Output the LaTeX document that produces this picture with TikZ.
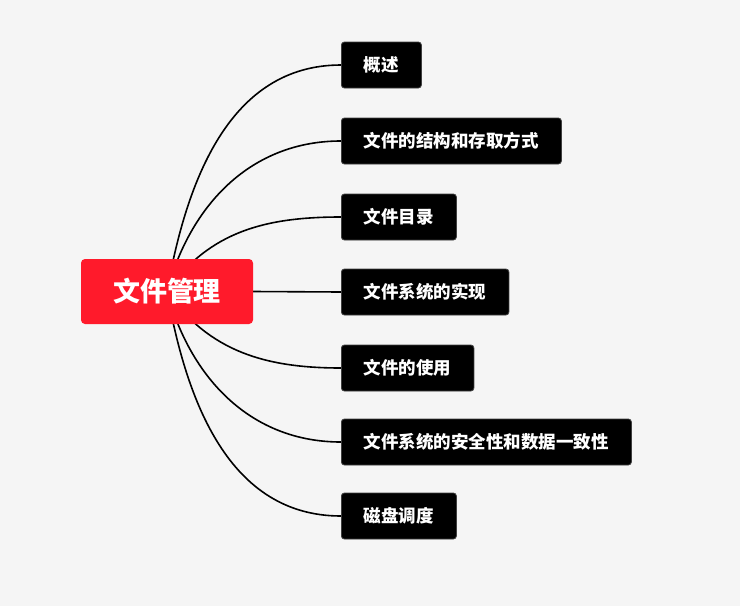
\documentclass[tikz,border=0pt]{standalone}
\usepackage{fontspec}
\newfontfamily\cjk{Noto Sans CJK SC}
\usetikzlibrary{positioning}

\definecolor{bggray}{HTML}{F5F5F5}
\definecolor{rootred}{HTML}{FF1A2B}
\pgfdeclarelayer{back}
\pgfsetlayers{back,main}

\tikzset{
  rootbox/.style={fill=rootred, rounded corners=4pt, text=white,
    font=\cjk\bfseries\fontsize{27}{30}\selectfont,
    minimum width=172pt, minimum height=65pt, inner sep=0pt},
  topicbox/.style={fill=black, draw=black!75, line width=0.8pt, rounded corners=3pt,
    text=white, font=\cjk\bfseries\fontsize{17.5}{20}\selectfont,
    minimum height=46pt, inner xsep=22.5pt, inner ysep=0pt, anchor=west},
  branch/.style={draw=black, line width=1.6pt},
}

\begin{document}
\begin{tikzpicture}[x=1pt,y=-1pt]
    \useasboundingbox (0,0) rectangle (740,606);
    \node[rootbox] (root) at (167,291.5) {文件管理};
    \node[topicbox] (intro) at (341,65) {概述};
    \node[topicbox] (struct) at (341,141) {文件的结构和存取方式};
    \node[topicbox] (dir) at (341,217) {文件目录};
    \node[topicbox] (impl) at (341,292) {文件系统的实现};
    \node[topicbox] (use) at (341,368) {文件的使用};
    \node[topicbox] (safe) at (341,442) {文件系统的安全性和数据一致性};
    \node[topicbox] (disk) at (341,516) {磁盘调度};
    \begin{pgfonlayer}{back}
      \fill[bggray] (0,0) rectangle (740,606);
      \draw[branch] (root.center) .. controls +(19.4,-110.1) and +(-111.8,0) .. (intro.west);
      \draw[branch] (root.center) .. controls +(23.3,-86.9) and +(-90,0) .. (struct.west);
      \draw[branch] (root.center) .. controls +(42.5,-60.7) and +(-74.1,0) .. (dir.west);
      \draw[branch] (root.east) -- (impl.west);
      \draw[branch] (root.center) .. controls +(42.5,60.7) and +(-74.1,0) .. (use.west);
      \draw[branch] (root.center) .. controls +(23.3,86.9) and +(-90,0) .. (safe.west);
      \draw[branch] (root.center) .. controls +(19.4,110.1) and +(-111.8,0) .. (disk.west);
    \end{pgfonlayer}
  \end{tikzpicture}
\end{document}
